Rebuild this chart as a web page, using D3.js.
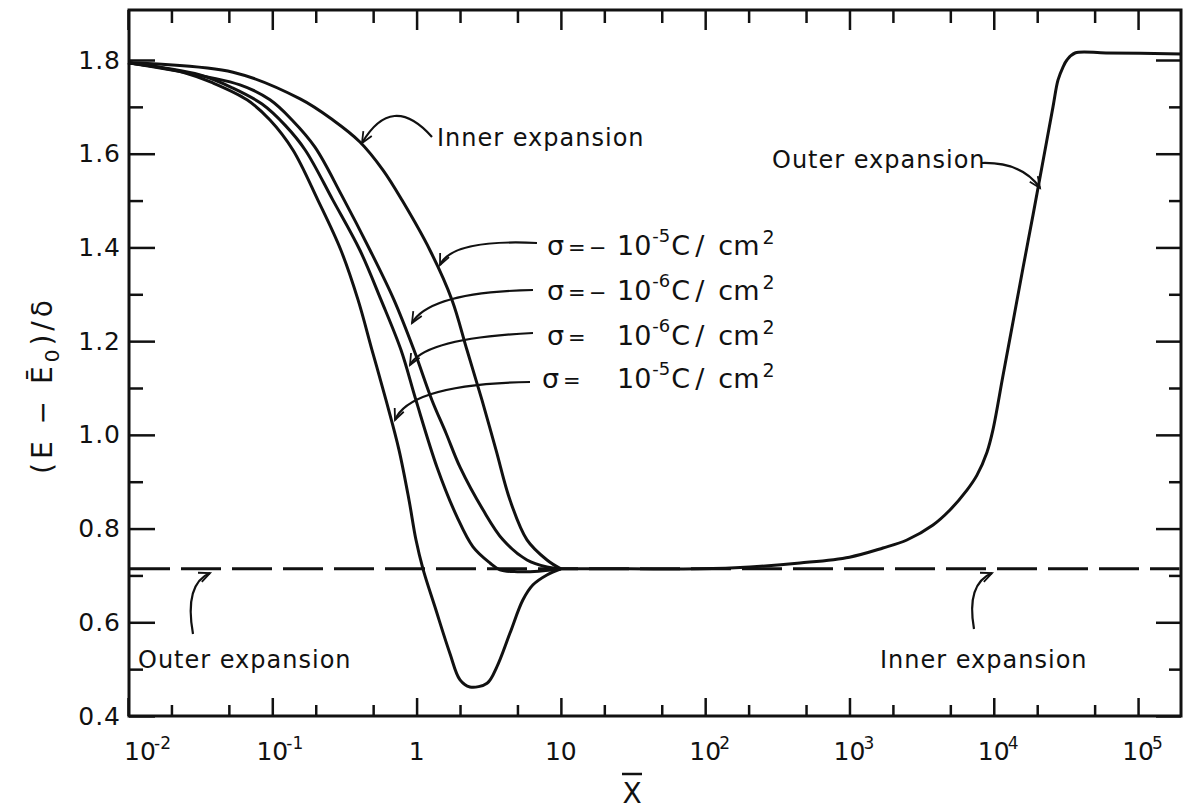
<!DOCTYPE html>
<html>
<head>
<meta charset="utf-8">
<script src="https://cdn.jsdelivr.net/npm/d3@7"></script>
<style>
  body { margin: 0; background: #fff; }
  svg { display: block; font-family: "DejaVu Sans", sans-serif; }
</style>
</head>
<body>
<div id="chart"></div>
<script>
// ---- data ----
var xDecades = [1e-2, 1e-1, 1, 10, 1e2, 1e3, 1e4, 1e5];
var xDecadeBase = ["10", "10", "1", "10", "10", "10", "10", "10"];
var xDecadeExp = ["-2", "-1", "", "", "2", "3", "4", "5"];
var yLabelValues = [0.4, 0.6, 0.8, 1.0, 1.2, 1.4, 1.6, 1.8];
var yLabelText = ["0.4", "0.6", "0.8", "1.0", "1.2", "1.4", "1.6", "1.8"];
var yMinorValues = [0.5, 0.7, 0.9, 1.1, 1.3, 1.5, 1.7];

// limit value shown dashed
var dashedLevel = 0.714;

// sigma = 10^-5 C/cm2 (dips below the limit)
var sigmaPos5 = [[0.01,1.794],[0.024,1.774],[0.0388,1.751],[0.0668,1.715],[0.0964,1.672],
  [0.139,1.608],[0.207,1.501],[0.299,1.394],[0.393,1.288],[0.491,1.181],[0.614,1.074],
  [0.755,0.968],[0.886,0.861],[0.99,0.776],[1.107,0.714],[1.34,0.633],[1.70,0.534],
  [2.0,0.477],[2.34,0.462],[3.08,0.470],[3.6,0.505],[4.44,0.577],[5.46,0.648],
  [6.41,0.680],[8.0,0.701],[10,0.714]];
// sigma = 10^-6 C/cm2
var sigmaPos6 = [[0.01,1.794],[0.0316,1.768],[0.0534,1.740],[0.0849,1.706],[0.1225,1.661],
  [0.169,1.608],[0.263,1.501],[0.405,1.394],[0.567,1.288],[0.780,1.181],[0.990,1.074],
  [1.385,0.931],[1.906,0.825],[2.46,0.761],[3.227,0.7265],[3.784,0.712],[5.0,0.708],
  [7.0,0.709],[10,0.714]];
// sigma = -10^-6 C/cm2
var sigmaNeg6 = [[0.01,1.794],[0.0597,1.747],[0.0964,1.715],[0.137,1.672],[0.1976,1.614],
  [0.304,1.510],[0.476,1.394],[0.697,1.288],[0.959,1.181],[1.278,1.074],[1.598,1.004],
  [2.0,0.931],[2.886,0.840],[3.97,0.776],[5.823,0.733],[8.012,0.718],[10,0.714]];
// sigma = -10^-5 C/cm2 (coincides with the inner expansion)
var sigmaNeg5 = [[0.01,1.794],[0.0534,1.774],[0.156,1.717],[0.263,1.672],[0.405,1.625],
  [0.585,1.565],[0.792,1.501],[1.238,1.394],[1.759,1.288],[2.235,1.181],[2.84,1.074],
  [3.55,0.968],[4.439,0.861],[5.823,0.776],[8.012,0.733],[10,0.714]];
// common branch at large x (outer expansion)
var farBranch = [[10,0.714],[30,0.714],[92,0.714],[204,0.718],[454,0.7265],[1000,0.739],
  [1706,0.7585],[2500,0.7756],[3793,0.8076],[4970,0.8396],[6517,0.882],[7650,0.914],
  [8975,0.963],[9860,1.010],[11580,1.126],[13590,1.241],[15940,1.356],[18700,1.469],
  [21930,1.584],[25730,1.70],[27860,1.757],[30190,1.785],[32140,1.80],[36560,1.815],
  [60000,1.815],[200000,1.813]];

var svgWidth = 1187;
var svgHeight = 812;
var frame = {left: 129, right: 1181, top: 10, bottom: 716};
var ink = "#111";

var svg = d3.select("#chart")
  .append("svg")
  .attr("width", svgWidth)
  .attr("height", svgHeight);

var xScale = d3.scaleLog().domain([1e-2, 2e5]).range([128, 1181.5]);
var yScale = d3.scaleLinear().domain([0.4, 1.8]).range([716, 60]);

var xMinor = [];
xDecades.forEach(function(d) {
  [2, 5].forEach(function(m) { if (d * m < 2e5) xMinor.push(d * m); });
});

// ---- ticks (all pointing inward) ----
function styleAxis(g) {
  g.select(".domain").remove();
  g.selectAll("line").attr("stroke", ink).attr("stroke-width", 2.5);
}

svg.append("g").attr("transform", `translate(0,${frame.bottom})`)
  .call(d3.axisBottom(xScale).tickValues(xDecades).tickSize(-18).tickFormat(""))
  .call(styleAxis);
svg.append("g").attr("transform", `translate(0,${frame.bottom})`)
  .call(d3.axisBottom(xScale).tickValues(xMinor).tickSize(-11).tickFormat(""))
  .call(styleAxis);
svg.append("g").attr("transform", `translate(0,${frame.top})`)
  .call(d3.axisTop(xScale).tickValues(xDecades).tickSize(-20).tickFormat(""))
  .call(styleAxis);
svg.append("g").attr("transform", `translate(0,${frame.top})`)
  .call(d3.axisTop(xScale).tickValues(xMinor).tickSize(-13).tickFormat(""))
  .call(styleAxis);

var yLeft = svg.append("g").attr("transform", `translate(${frame.left},0)`)
  .call(d3.axisLeft(yScale).tickValues(yLabelValues).tickSize(-26).tickPadding(8)
    .tickFormat(function(d, i) { return yLabelText[i]; }))
  .call(styleAxis);
yLeft.selectAll("text")
  .attr("fill", ink)
  .style("font-size", "25px")
  .style("font-family", "DejaVu Sans, sans-serif")
  .style("letter-spacing", "1px");
svg.append("g").attr("transform", `translate(${frame.left},0)`)
  .call(d3.axisLeft(yScale).tickValues(yMinorValues).tickSize(-14).tickFormat(""))
  .call(styleAxis);
svg.append("g").attr("transform", `translate(${frame.right},0)`)
  .call(d3.axisRight(yScale).tickValues(yLabelValues).tickSize(-25).tickFormat(""))
  .call(styleAxis);
svg.append("g").attr("transform", `translate(${frame.right},0)`)
  .call(d3.axisRight(yScale).tickValues(yMinorValues).tickSize(-12).tickFormat(""))
  .call(styleAxis);

// frame
svg.append("rect")
  .attr("x", frame.left).attr("y", frame.top)
  .attr("width", frame.right - frame.left)
  .attr("height", frame.bottom - frame.top)
  .attr("fill", "none").attr("stroke", ink).attr("stroke-width", 3);

// x tick labels, 10 with superscript
var xLab = svg.append("g").attr("fill", ink);
xDecades.forEach(function(d, i) {
  var cx = Math.max(xScale(d), frame.left + 11);
  xLab.append("text")
    .attr("x", cx).attr("y", 760)
    .attr("text-anchor", "middle")
    .style("font-size", "25px")
    .text(xDecadeBase[i]);
  if (xDecadeExp[i]) {
    xLab.append("text")
      .attr("x", cx + 14).attr("y", 749)
      .style("font-size", "17px")
      .text(xDecadeExp[i]);
  }
});

// ---- curves ----
var line = d3.line()
  .x(function(d) { return xScale(d[0]); })
  .y(function(d) { return yScale(d[1]); })
  .curve(d3.curveCatmullRom.alpha(0.5));

svg.append("line")
  .attr("x1", xScale(1e-2) + 2).attr("x2", xScale(2e5) - 2)
  .attr("y1", yScale(dashedLevel)).attr("y2", yScale(dashedLevel))
  .attr("stroke", ink).attr("stroke-width", 3)
  .attr("stroke-dasharray", "40,11");

[sigmaPos5, sigmaPos6, sigmaNeg6, sigmaNeg5, farBranch].forEach(function(s) {
  svg.append("path")
    .datum(s)
    .attr("d", line)
    .attr("fill", "none")
    .attr("stroke", ink)
    .attr("stroke-width", 3)
    .attr("stroke-linejoin", "round");
});

// ---- annotations ----
var notes = svg.append("g").attr("fill", ink);

function arrow(p0, p1, p2) {
  notes.append("path")
    .attr("d", `M${p0[0]},${p0[1]} Q${p1[0]},${p1[1]} ${p2[0]},${p2[1]}`)
    .attr("fill", "none").attr("stroke", ink).attr("stroke-width", 2.2);
  var ang = Math.atan2(p2[1] - p1[1], p2[0] - p1[0]);
  var len = 12, spread = 0.42;
  var a1 = [p2[0] - len * Math.cos(ang - spread), p2[1] - len * Math.sin(ang - spread)];
  var a2 = [p2[0] - len * Math.cos(ang + spread), p2[1] - len * Math.sin(ang + spread)];
  notes.append("path")
    .attr("d", `M${a1[0]},${a1[1]} L${p2[0]},${p2[1]} L${a2[0]},${a2[1]}`)
    .attr("fill", "none").attr("stroke", ink).attr("stroke-width", 1.8);
}

function note(x, y, txt) {
  notes.append("text")
    .attr("x", x).attr("y", y)
    .style("font-size", "24px")
    .style("letter-spacing", "1px")
    .text(txt);
}

note(437, 146, "Inner expansion");
arrow([432, 137], [392, 92], [362, 143]);

note(772, 168, "Outer expansion");
arrow([982, 163], [1022, 162], [1040, 188]);

note(138, 668, "Outer expansion");
arrow([193, 634], [184, 584], [210, 573]);

note(880, 668, "Inner expansion");
arrow([974, 629], [966, 584], [992, 573]);

// sigma labels
var sigmaRows = [
  {y: 255, sx: 547, minus: true, exp: "-5", tip: [[537, 243], [452, 239], [440, 265]]},
  {y: 300, sx: 547, minus: true, exp: "-6", tip: [[533, 290], [430, 292], [412, 323]]},
  {y: 345, sx: 547, minus: false, exp: "-6", tip: [[533, 333], [425, 338], [410, 365]]},
  {y: 388, sx: 542, minus: false, exp: "-5", tip: [[530, 382], [410, 384], [395, 420]]}
];
sigmaRows.forEach(function(r) {
  var t = notes.append("text").attr("y", r.y).style("font-size", "27px");
  t.append("tspan").attr("x", r.sx).text("σ");
  t.append("tspan").attr("x", r.sx + 21).style("font-size", "21px").text("=");
  if (r.minus) t.append("tspan").attr("x", 589).style("font-size", "21px").text("−");
  t.append("tspan").attr("x", 617).text("10");
  t.append("tspan").attr("dx", 1).attr("dy", -13).style("font-size", "18px").text(r.exp);
  t.append("tspan").attr("dx", 1).attr("dy", 13).text("C");
  t.append("tspan").attr("dx", 5).text("/");
  t.append("tspan").attr("dx", 14).text("cm");
  t.append("tspan").attr("dx", 3).attr("dy", -11).style("font-size", "19px").text("2");
  arrow(r.tip[0], r.tip[1], r.tip[2]);
});

// axis titles
var xt = svg.append("g");
xt.append("text")
  .attr("x", 632).attr("y", 803)
  .attr("text-anchor", "middle")
  .attr("fill", ink)
  .style("font-size", "28px")
  .text("X");
xt.append("line")
  .attr("x1", 622).attr("x2", 642)
  .attr("y1", 774).attr("y2", 774)
  .attr("stroke", ink).attr("stroke-width", 2.5);

var yt = svg.append("text")
  .attr("transform", "translate(52,385) rotate(-90)")
  .attr("text-anchor", "middle")
  .attr("fill", ink)
  .style("font-size", "28px")
  .style("letter-spacing", "4px");
yt.append("tspan").text("(E − Ē");
yt.append("tspan").attr("dy", 7).style("font-size", "20px").text("0");
yt.append("tspan").attr("dy", -7).text(")/δ");
</script>
</body>
</html>
